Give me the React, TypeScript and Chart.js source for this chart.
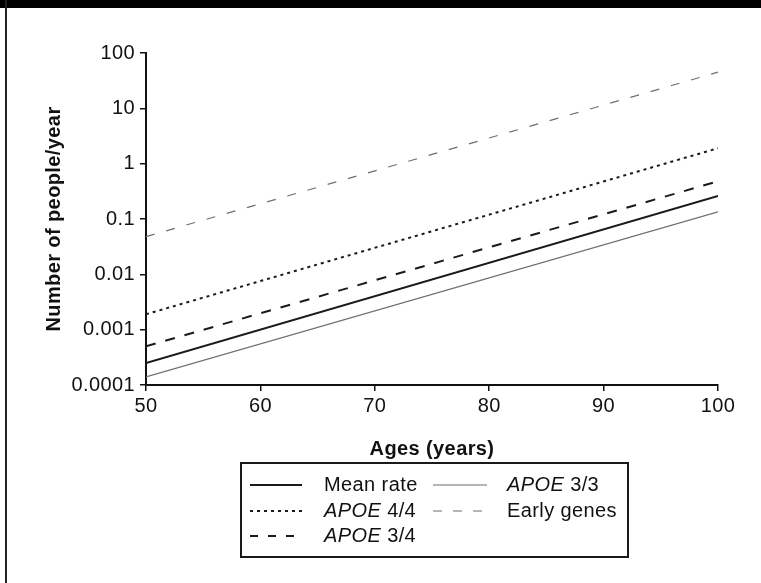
import React, { useEffect, useRef } from 'react';
import { Chart, registerables } from 'chart.js';

Chart.register(...registerables);

// ---- data ----
const ages = [50, 100];
const meanRate = [0.00025, 0.26];
const apoe44 = [0.0019, 1.9];
const apoe34 = [0.0005, 0.48];
const apoe33 = [0.00014, 0.135];
const earlyGenes = [0.048, 45];
const seriesLabels = ['Mean rate', 'APOE 4/4', 'APOE 3/4', 'APOE 3/3', 'Early genes'];
const xTicks = [50, 60, 70, 80, 90, 100];
const yTicks = [0.0001, 0.001, 0.01, 0.1, 1, 10, 100];
const yTickLabels = ['0.0001', '0.001', '0.01', '0.1', '1', '10', '100'];
const xTitle = 'Ages (years)';
const yTitle = 'Number of people/year';

const FONT = '"Liberation Sans", Arial, Helvetica, sans-serif';
const SPACING = '0.4px';
const FS = 20;

const pts = (ys: number[]) => ages.map((x, i) => ({ x, y: ys[i] }));

const spacingPlugin = {
  id: 'spacing',
  beforeUpdate(chart: any) { chart.ctx.letterSpacing = SPACING; },
  beforeLayout(chart: any) { chart.ctx.letterSpacing = SPACING; },
  beforeDraw(chart: any) { chart.ctx.letterSpacing = SPACING; },
};

const legendPlugin = {
  id: 'customLegend',
  afterDraw(chart: any) {
    const ctx = chart.ctx;
    const box = { x: 241, y: 463, w: 387, h: 94 };
    const cols = [
      { lineX: 250, lineW: 52, textX: 324 },
      { lineX: 433, lineW: 54, textX: 507 },
    ];
    const rows = [485, 511, 536];
    ctx.save();
    ctx.letterSpacing = SPACING;
    ctx.strokeStyle = '#1a1a1a';
    ctx.lineWidth = 2;
    ctx.setLineDash([]);
    ctx.strokeRect(box.x, box.y, box.w, box.h);
    chart.data.datasets.forEach((ds: any, i: number) => {
      const c = cols[i < 3 ? 0 : 1];
      const y = rows[i < 3 ? i : i - 3];
      ctx.save();
      ctx.strokeStyle = ds.borderColor;
      ctx.lineWidth = ds.borderWidth;
      ctx.setLineDash(ds.legendDash || ds.borderDash || []);
      ctx.beginPath();
      ctx.moveTo(c.lineX, y);
      ctx.lineTo(c.lineX + c.lineW, y);
      ctx.stroke();
      ctx.restore();
      ctx.fillStyle = '#111';
      ctx.textBaseline = 'middle';
      ctx.textAlign = 'left';
      const label: string = ds.label;
      let x = c.textX;
      if (label.startsWith('APOE')) {
        ctx.font = `italic ${FS}px ${FONT}`;
        ctx.fillText('APOE', x, y);
        x += ctx.measureText('APOE').width;
        ctx.font = `${FS}px ${FONT}`;
        ctx.fillText(label.slice(4), x, y);
      } else {
        ctx.font = `${FS}px ${FONT}`;
        ctx.fillText(label, x, y);
      }
    });
    ctx.restore();
  },
};

export default function App() {
  const ref = useRef<HTMLCanvasElement>(null);
  useEffect(() => {
    if (!ref.current) return;
    const axisColor = '#111';
    const chart = new Chart(ref.current, {
      type: 'line',
      data: {
        datasets: [
          { label: seriesLabels[0], data: pts(meanRate), borderColor: '#1a1a1a', borderWidth: 2, borderDash: [] },
          { label: seriesLabels[1], data: pts(apoe44), borderColor: '#1a1a1a', borderWidth: 2, borderDash: [3, 4] },
          { label: seriesLabels[2], data: pts(apoe34), borderColor: '#1a1a1a', borderWidth: 2, borderDash: [10, 10], legendDash: [8, 10] },
          { label: seriesLabels[3], data: pts(apoe33), borderColor: '#6e6e6e', borderWidth: 1.2, borderDash: [] },
          { label: seriesLabels[4], data: pts(earlyGenes), borderColor: '#6e6e6e', borderWidth: 1.2, borderDash: [9, 12], legendDash: [9, 11] },
        ] as any,
      },
      options: {
        animation: false,
        responsive: false,
        events: [],
        elements: { point: { radius: 0 }, line: { tension: 0 } },
        layout: { padding: { top: 53, right: 43, bottom: 118, left: 0 } },
        plugins: { legend: { display: false }, tooltip: { enabled: false } },
        scales: {
          x: {
            type: 'linear',
            min: 50,
            max: 100,
            afterBuildTicks: (s: any) => { s.ticks = xTicks.map((v) => ({ value: v })); },
            afterFit: (s: any) => { s.height = 80; },
            ticks: {
              autoSkip: false,
              maxRotation: 0,
              padding: 3,
              color: '#111',
              font: { family: FONT, size: FS },
              callback: (v: any) => String(v),
            },
            grid: { display: true, drawOnChartArea: false, drawTicks: true, tickLength: 6, color: axisColor, lineWidth: 1.5 },
            border: { display: true, color: axisColor, width: 2 },
            title: {
              display: true,
              text: xTitle,
              color: '#111',
              font: { family: FONT, size: FS, weight: 'bold' },
              padding: { top: 0, bottom: 4 },
            },
          },
          y: {
            type: 'logarithmic',
            min: 0.0001,
            max: 100,
            afterBuildTicks: (s: any) => { s.ticks = yTicks.map((v) => ({ value: v })); },
            afterFit: (s: any) => { s.width = 146; },
            ticks: {
              autoSkip: false,
              padding: 5,
              color: '#111',
              font: { family: FONT, size: FS },
              callback: (_v: any, i: number) => yTickLabels[i],
            },
            grid: { display: true, drawOnChartArea: false, drawTicks: true, tickLength: 6, color: axisColor, lineWidth: 1.5 },
            border: { display: true, color: axisColor, width: 2 },
            title: {
              display: true,
              text: yTitle,
              color: '#111',
              font: { family: FONT, size: FS, weight: 'bold' },
              padding: { top: 42, bottom: 0 },
            },
          },
        },
      } as any,
      plugins: [spacingPlugin, legendPlugin],
    });
    return () => chart.destroy();
  }, []);

  return (
    <div style={{ position: 'absolute', left: 0, top: 0, width: 761, height: 583, background: '#fff', overflow: 'hidden' }}>
      <canvas ref={ref} width={761} height={583} style={{ position: 'absolute', left: 0, top: 0, width: 761, height: 583 }} />
      <div style={{ position: 'absolute', left: 0, top: 0, width: 761, height: 8, background: '#000' }} />
      <div style={{ position: 'absolute', left: 5, top: 0, width: 2, height: 583, background: '#222' }} />
    </div>
  );
}
